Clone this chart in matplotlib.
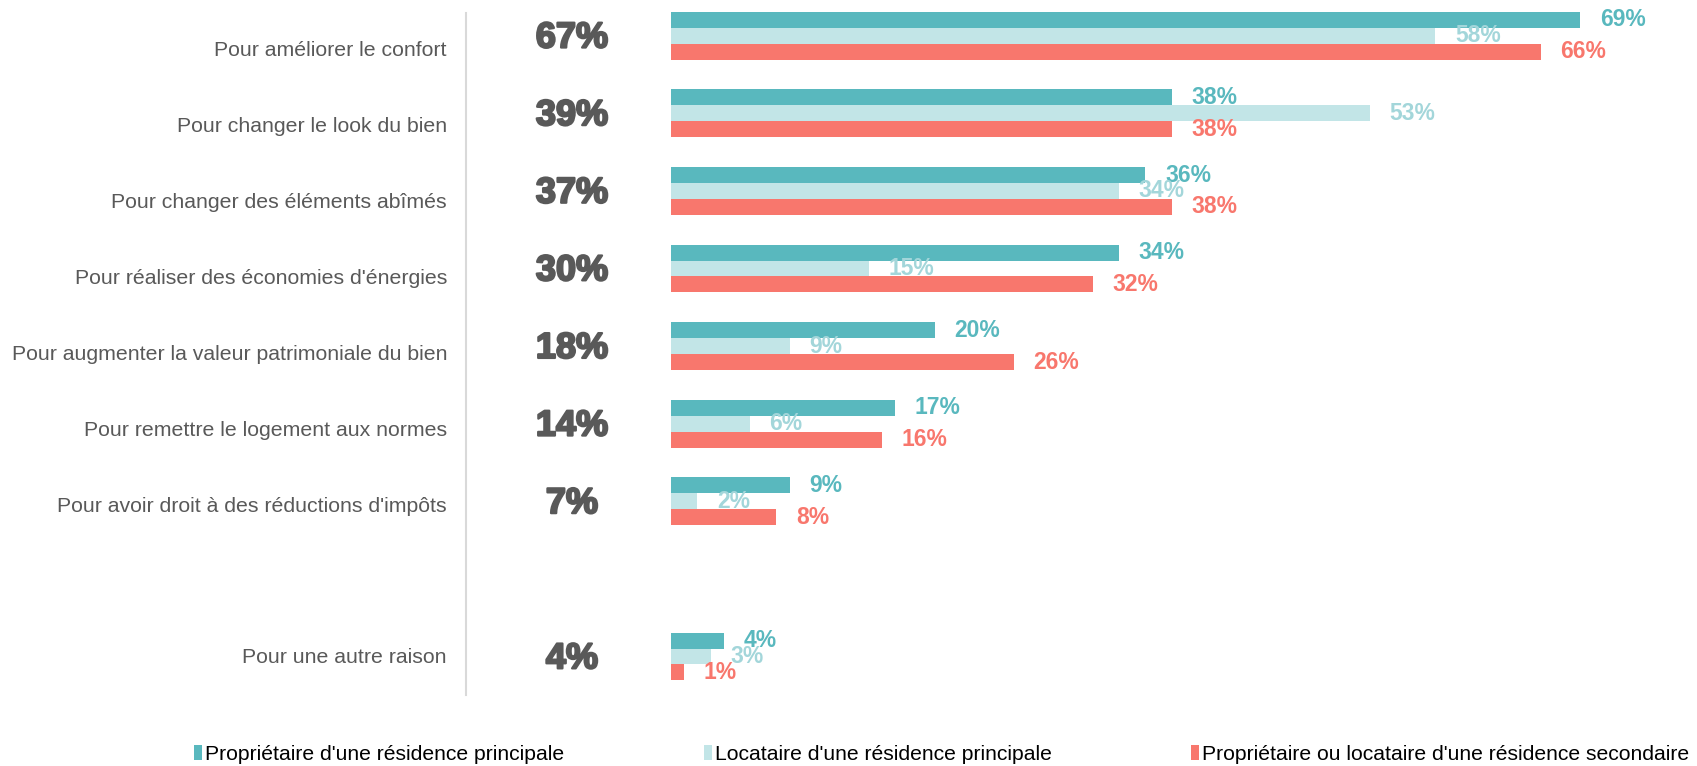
import matplotlib
matplotlib.use("Agg")
import matplotlib.pyplot as plt
from matplotlib.patches import Patch
from matplotlib.lines import Line2D
import matplotlib.transforms as mtransforms
import matplotlib.patheffects as pe

plt.rcParams['font.family'] = ['Liberation Sans', 'DejaVu Sans']

categories = [
    "Pour améliorer le confort",
    "Pour changer le look du bien",
    "Pour changer des éléments abîmés",
    "Pour réaliser des économies d'énergies",
    "Pour augmenter la valeur patrimoniale du bien",
    "Pour remettre le logement aux normes",
    "Pour avoir droit à des réductions d'impôts",
    "Pour une autre raison",
]
totals = [67, 39, 37, 30, 18, 14, 7, 4]
proprietaire_rp = [69, 38, 36, 34, 20, 17, 9, 4]
locataire_rp = [58, 53, 34, 15, 9, 6, 2, 3]
residence_sec = [66, 38, 38, 32, 26, 16, 8, 1]
series_names = [
    "Propriétaire d'une résidence principale",
    "Locataire d'une résidence principale",
    "Propriétaire ou locataire d'une résidence secondaire",
]
# row positions (an empty slot before the last category)
rows = [0, 1, 2, 3, 4, 5, 6, 8]

colors = ["#59B8BE", "#C2E5E7", "#F8776D"]
label_colors = ["#59B8BE", "#A3D6DA", "#F8776D"]

W, H = 1697, 766
fig = plt.figure(figsize=(W / 100, H / 100), dpi=100)
ax = fig.add_axes([671 / W, 1 - 700 / H, 1 - 671 / W, 700 / H])
ax.set_xlim(0, 1026 / 13.18)
ax.set_ylim(8.56, -0.46)
ax.axis("off")

bh = 0.205
offsets = [-bh, 0, bh]
all_series = [proprietaire_rp, locataire_rp, residence_sec]
for s, vals in enumerate(all_series):
    ys = [r + offsets[s] for r in rows]
    ax.barh(ys, vals, height=bh, color=colors[s], edgecolor="none")
    for y, v in zip(ys, vals):
        ax.annotate(f"{v}%", (v, y), xytext=(14, 0), textcoords="offset points",
                    ha="left", va="center", fontsize=16.5, fontweight="bold",
                    color=label_colors[s])

trans = mtransforms.blended_transform_factory(fig.transFigure, ax.transData)
for r, cat, tot in zip(rows, categories, totals):
    # category labels sit on a slightly tighter grid, a bit below the bar centres
    fig.text(447 / W, 0.195 + 0.9777 * r, cat, transform=trans, ha="right",
             va="center", fontsize=15.3, color="#595959")
    fig.text(572 / W, r + 0.03, f"{tot}%", transform=trans, ha="center",
             va="center", fontsize=26, fontweight="bold", color="#595959",
             path_effects=[pe.withStroke(linewidth=1.6, foreground="#595959")])

fig.add_artist(Line2D([466 / W, 466 / W], [1 - 13 / H, 1 - 695 / H],
                      transform=fig.transFigure, color="#D9D9D9", lw=1.5))

handles = [Patch(facecolor=c, edgecolor="none") for c in colors]
fig.legend(handles, series_names, loc="center", bbox_to_anchor=(0.555, 1 - 754 / H),
           ncol=3, frameon=False, fontsize=15.2, handlelength=0.38, handleheight=0.7,
           handletextpad=0.15, columnspacing=6.6, labelcolor="#000000",
           borderpad=0.1, borderaxespad=0)

fig.savefig("out.png", dpi=100)
